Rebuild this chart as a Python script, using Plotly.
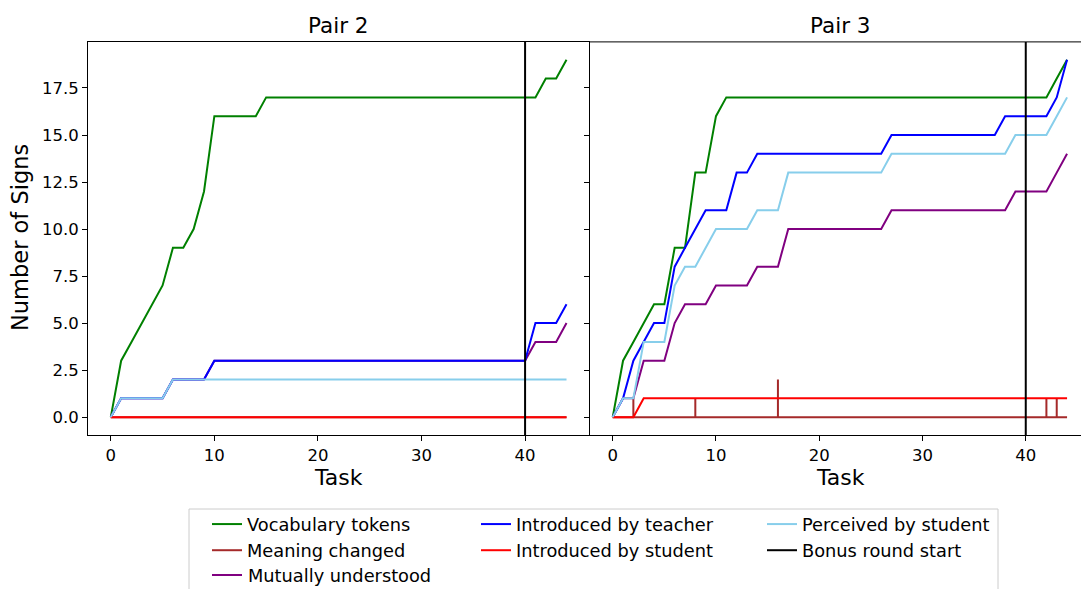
import plotly.graph_objects as go

# ---------------- data ----------------
tasks = list(range(45))
bonus_start = 40

# Pair 2
vocab2 = [0, 3, 4, 5, 6, 7, 9, 9, 10, 12, 16, 16, 16, 16, 16,
          17, 17, 17, 17, 17, 17, 17, 17, 17, 17, 17, 17, 17, 17, 17,
          17, 17, 17, 17, 17, 17, 17, 17, 17, 17, 17, 17, 18, 18, 19]
changed2 = [0] * 45
mutual2 = [0, 1, 1, 1, 1, 1, 2, 2, 2, 2, 3, 3, 3, 3, 3,
           3, 3, 3, 3, 3, 3, 3, 3, 3, 3, 3, 3, 3, 3, 3,
           3, 3, 3, 3, 3, 3, 3, 3, 3, 3, 3, 4, 4, 4, 5]
teacher2 = [0, 1, 1, 1, 1, 1, 2, 2, 2, 2, 3, 3, 3, 3, 3,
            3, 3, 3, 3, 3, 3, 3, 3, 3, 3, 3, 3, 3, 3, 3,
            3, 3, 3, 3, 3, 3, 3, 3, 3, 3, 3, 5, 5, 5, 6]
student2 = [0] * 45
perceived2 = [0, 1, 1, 1, 1, 1, 2, 2, 2, 2, 2, 2, 2, 2, 2,
              2, 2, 2, 2, 2, 2, 2, 2, 2, 2, 2, 2, 2, 2, 2,
              2, 2, 2, 2, 2, 2, 2, 2, 2, 2, 2, 2, 2, 2, 2]

# Pair 3
vocab3 = [0, 3, 4, 5, 6, 6, 9, 9, 13, 13, 16, 17, 17, 17, 17,
          17, 17, 17, 17, 17, 17, 17, 17, 17, 17, 17, 17, 17, 17, 17,
          17, 17, 17, 17, 17, 17, 17, 17, 17, 17, 17, 17, 17, 18, 19]
changed3_x = [0, 2, 2, 2, 8, 8, 8, 16, 16, 16, 42, 42, 42, 43, 43, 43, 44]
changed3_y = [0, 0, 1, 0, 0, 1, 0, 0, 2, 0, 0, 1, 0, 0, 1, 0, 0]
mutual3 = [0, 1, 1, 3, 3, 3, 5, 6, 6, 6, 7, 7, 7, 7, 8,
           8, 8, 10, 10, 10, 10, 10, 10, 10, 10, 10, 10, 11, 11, 11,
           11, 11, 11, 11, 11, 11, 11, 11, 11, 12, 12, 12, 12, 13, 14]
teacher3 = [0, 1, 3, 4, 5, 5, 8, 9, 10, 11, 11, 11, 13, 13, 14,
            14, 14, 14, 14, 14, 14, 14, 14, 14, 14, 14, 14, 15, 15, 15,
            15, 15, 15, 15, 15, 15, 15, 15, 16, 16, 16, 16, 16, 17, 19]
student3 = [0, 0, 0, 1, 1, 1, 1, 1, 1, 1, 1, 1, 1, 1, 1,
            1, 1, 1, 1, 1, 1, 1, 1, 1, 1, 1, 1, 1, 1, 1,
            1, 1, 1, 1, 1, 1, 1, 1, 1, 1, 1, 1, 1, 1, 1]
perceived3 = [0, 1, 1, 4, 4, 4, 7, 8, 8, 9, 10, 10, 10, 10, 11,
              11, 11, 13, 13, 13, 13, 13, 13, 13, 13, 13, 13, 14, 14, 14,
              14, 14, 14, 14, 14, 14, 14, 14, 14, 15, 15, 15, 15, 16, 17]

panel_titles = ["Pair 2", "Pair 3"]
series_names = ["Vocabulary tokens", "Meaning changed", "Mutually understood",
                "Introduced by teacher", "Introduced by student", "Perceived by student"]
bonus_name = "Bonus round start"
x_ticks = [0, 10, 20, 30, 40]
y_ticks = [0, 2.5, 5, 7.5, 10, 12.5, 15, 17.5]

# ---------------- styling ----------------
colors = ["green", "brown", "purple", "blue", "red", "skyblue"]
# None -> entry drawn manually (third row of first legend column)
legend_of = ["legend", "legend", None, "legend2", "legend2", "legend3"]
FONT = "DejaVu Sans"
LEG_FONT = 17.8
W, H = 1081, 589
LW = 2

def px(x):
    return x / W

def py(y):
    return 1 - y / H

fig = go.Figure()

panels = [
    ("x", "y", [
        (tasks, vocab2), (tasks, changed2), (tasks, mutual2),
        (tasks, teacher2), (tasks, student2), (tasks, perceived2)]),
    ("x2", "y2", [
        (tasks, vocab3), (changed3_x, changed3_y), (tasks, mutual3),
        (tasks, teacher3), (tasks, student3), (tasks, perceived3)]),
]

for pi, (xa, ya, data) in enumerate(panels):
    for si, (xs, ys) in enumerate(data):
        lg = legend_of[si]
        fig.add_trace(go.Scatter(
            x=xs, y=ys, mode="lines", name=series_names[si],
            line=dict(color=colors[si], width=LW),
            xaxis=xa, yaxis=ya, showlegend=(pi == 0 and lg is not None),
            legend=lg if lg else "legend", hoverinfo="skip"))
    fig.add_shape(type="line", xref=xa, yref=ya + " domain",
                  x0=bonus_start, x1=bonus_start, y0=0, y1=1,
                  line=dict(color="black", width=LW))

# legend entry for the bonus line
fig.add_trace(go.Scatter(x=[None], y=[None], mode="lines", name=bonus_name,
                         line=dict(color="black", width=LW),
                         legend="legend3", showlegend=True))

# geometry
ydom = [py(435), py(41.9)]
axis_common = dict(showgrid=False, zeroline=False, showline=True,
                   linecolor="black", linewidth=1, ticks="outside",
                   ticklen=5, tickwidth=1, tickcolor="black",
                   tickfont=dict(family=FONT, size=16.5, color="black"),
                   automargin=False)

fig.update_layout(
    width=W, height=H,
    margin=dict(l=0, r=0, t=0, b=0),
    paper_bgcolor="white", plot_bgcolor="white",
    font=dict(family=FONT, color="black"),
    xaxis=dict(domain=[px(88), px(589.3)], range=[-2.2, 46.2],
               tickvals=x_ticks, mirror=True, anchor="y", **axis_common),
    xaxis2=dict(domain=[px(590), 1.0], range=[-2.2, 45.35],
                tickvals=x_ticks, mirror=False, anchor="y2", **axis_common),
    yaxis=dict(domain=ydom, range=[-0.95, 19.95], tickvals=y_ticks,
               tickformat=".1f", mirror=True, anchor="x", **axis_common),
    yaxis2=dict(domain=ydom, range=[-0.95, 19.95], tickvals=y_ticks,
                showticklabels=False, mirror=False, anchor="x2", **axis_common),
)

# top spine for right panel (no right spine visible)
fig.add_shape(type="line", xref="x2 domain", yref="y2 domain",
              x0=0, x1=1, y0=1, y1=1, line=dict(color="black", width=1))

# titles / labels
ann = []
for cx, t in [((88 + 589.3) / 2, panel_titles[0]), ((590 + 1090) / 2, panel_titles[1])]:
    ann.append(dict(text=t, x=px(cx), y=py(26), xref="paper", yref="paper",
                    showarrow=False, xanchor="center", yanchor="middle",
                    font=dict(family=FONT, size=21.5, color="black")))
    ann.append(dict(text="Task", x=px(cx), y=py(477), xref="paper", yref="paper",
                    showarrow=False, xanchor="center", yanchor="middle",
                    font=dict(family=FONT, size=22, color="black")))
ann.append(dict(text="Number of Signs", x=px(20), y=py(238), xref="paper",
                yref="paper", showarrow=False, textangle=-90,
                xanchor="center", yanchor="middle",
                font=dict(family=FONT, size=22.5, color="black")))

# third row of the first legend column (drawn manually to keep legend inside page)
row3_y = 575
ann.append(dict(text=series_names[2], x=px(246), y=py(row3_y), xref="paper",
                yref="paper", showarrow=False, xanchor="left", yanchor="middle",
                font=dict(family=FONT, size=LEG_FONT, color="black")))
fig.update_layout(annotations=ann)
fig.add_shape(type="line", xref="paper", yref="paper",
              x0=px(212), x1=px(242), y0=py(row3_y), y1=py(row3_y),
              line=dict(color=colors[2], width=LW))

# legend frame
fig.add_shape(type="rect", xref="paper", yref="paper",
              x0=px(189), x1=px(998), y0=py(600), y1=py(509),
              line=dict(color="#cccccc", width=1), fillcolor="white",
              layer="below")

leg_common = dict(bgcolor="rgba(0,0,0,0)", borderwidth=0,
                  font=dict(family=FONT, size=LEG_FONT, color="black"),
                  orientation="v", xanchor="left", yanchor="top",
                  tracegroupgap=0)
leg_top = 506
fig.update_layout(
    legend=dict(x=px(207), y=py(leg_top), **leg_common),
    legend2=dict(x=px(476), y=py(leg_top), **leg_common),
    legend3=dict(x=px(762), y=py(leg_top), **leg_common),
)

fig.write_html("out.html")
